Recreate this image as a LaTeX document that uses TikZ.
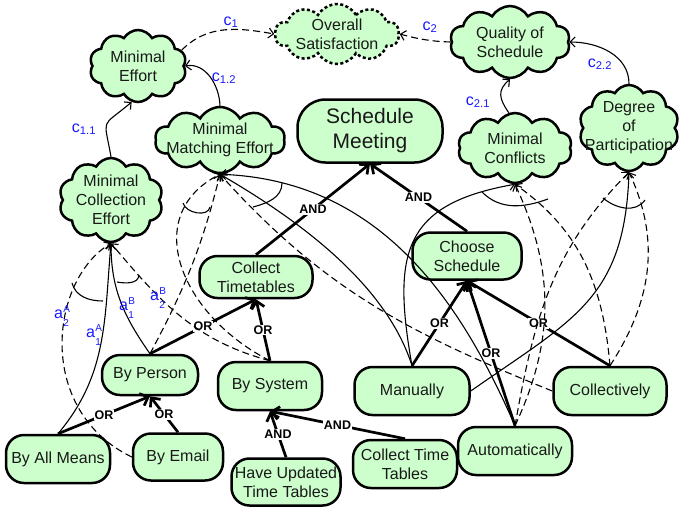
\documentclass[tikz,border=0pt]{standalone}
\usepackage{fontspec}
\setmainfont{Liberation Sans}
\usetikzlibrary{shapes.symbols,arrows.meta}
\definecolor{softgreen}{RGB}{204,255,204}
\definecolor{lblblue}{RGB}{25,25,255}
\definecolor{txtc}{RGB}{25,25,25}
\newcommand{\mylbl}[2]{a\kern0.3pt\raisebox{-8pt}{\fontsize{10}{13.5}\selectfont\begin{tabular}[b]{@{}l@{}}#1\\#2\end{tabular}}}
\tikzset{
  base/.style={draw=black, line width=2.5pt, fill=softgreen, text=txtc, align=center, font=\fontsize{16}{19}\selectfont, inner sep=0pt},
  cloudnode/.style={base, cloud, cloud puffs=10, cloud puff arc=120, cloud ignores aspect},
  dashcloud/.style={cloudnode, dash pattern=on 3pt off 2.5pt},
  ctext/.style={align=center, text=txtc, font=\fontsize{16}{19}\selectfont, inner sep=0pt},
  goalbox/.style={base, rectangle, rounded corners=18pt},
  declink/.style={line width=2.7pt, -{Straight Barb[length=7pt,width=13pt]}},
  contrib/.style={line width=1.1pt, -{Straight Barb[length=5pt,width=10pt]}},
  contribd/.style={contrib, dash pattern=on 7pt off 4pt},
  arcmark/.style={line width=1.1pt},
  oplbl/.style={fill=white, inner sep=1pt, text=black, font=\bfseries\fontsize{12.5}{14}\selectfont},
  clbl/.style={text=lblblue, font=\fontsize{16}{18}\selectfont, inner sep=0pt},
}
\begin{document}
\begin{tikzpicture}[x=1pt,y=1pt]
\useasboundingbox (0,0) rectangle (679,-507);
% softgoal clouds
\node[dashcloud, minimum width=124pt, minimum height=60pt] (os) at (337,-34) {};
\node[ctext] (ost) at (os.center) {Overall\\Satisfaction};
\node[cloudnode, minimum width=97pt, minimum height=72pt] (me) at (138,-66) {};
\node[ctext] (met) at (me.center) {Minimal\\Effort};
\node[cloudnode, minimum width=120pt, minimum height=72pt] (qos) at (510,-42) {};
\node[ctext] (qost) at (qos.center) {Quality of\\Schedule};
\node[cloudnode, minimum width=130pt, minimum height=66pt] (mme) at (220,-140) {};
\node[ctext] (mmet) at (mme.center) {Minimal\\Matching Effort};
\node[cloudnode, minimum width=104pt, minimum height=84pt] (mce) at (111,-200) {};
\node[ctext] (mcet) at (mce.center) {Minimal\\Collection\\Effort};
\node[cloudnode, minimum width=114pt, minimum height=70pt] (mc) at (515,-148) {};
\node[ctext] (mct) at (mc.center) {Minimal\\Conflicts};
\node[cloudnode, minimum width=100pt, minimum height=86pt] (dop) at (629,-128) {};
\node[ctext] (dopt) at (dop.center) {Degree\\of\\Participation};
% goals and tasks
\node[goalbox, rounded corners=28pt, minimum width=145pt, minimum height=63pt, font=\fontsize{21}{25}\selectfont] (sm) at (370,-131) {Schedule\\Meeting};
\node[goalbox, minimum width=113pt, minimum height=42pt] (ct) at (256,-277) {Collect\\Timetables};
\node[goalbox, minimum width=109pt, minimum height=47pt] (cs) at (467,-256) {Choose\\Schedule};
\node[goalbox, minimum width=96pt, minimum height=40pt] (bp) at (150,-375) {By Person};
\node[goalbox, minimum width=104pt, minimum height=48pt] (bs) at (270,-386) {By System};
\node[goalbox, minimum width=115pt, minimum height=48pt] (man) at (412,-391) {Manually};
\node[goalbox, minimum width=113pt, minimum height=48pt] (col) at (610,-391) {Collectively};
\node[goalbox, minimum width=114pt, minimum height=48pt] (auto) at (515,-451) {Automatically};
\node[goalbox, minimum width=104pt, minimum height=48pt] (bam) at (58,-459) {By All Means};
\node[goalbox, minimum width=90pt, minimum height=47pt] (be) at (178,-457) {By Email};
\node[goalbox, minimum width=109pt, minimum height=47pt] (hutt) at (286,-482) {Have Updated\\Time Tables};
\node[goalbox, minimum width=104pt, minimum height=48pt] (ctt) at (405,-464) {Collect Time\\Tables};
% decompositions
\draw[declink] (ct.north) -- node[oplbl]{AND} (sm.south);
\draw[declink] (cs.north) -- node[oplbl]{AND} (sm.south);
\draw[declink] (bp.north) -- node[oplbl]{OR} (ct.south);
\draw[declink] (bs.north) -- node[oplbl]{OR} (ct.south);
\draw[declink] (bam.north) -- node[oplbl]{OR} (bp.south);
\draw[declink] (be.north) -- node[oplbl]{OR} (bp.south);
\draw[declink] (hutt.north) -- node[oplbl]{AND} (bs.south);
\draw[declink] (ctt.north) -- node[oplbl]{AND} (bs.south);
\draw[declink] (man.north) -- node[oplbl]{OR} (cs.south);
\draw[declink] (auto.north) -- node[oplbl]{OR} (cs.south);
\draw[declink] (col.north) -- node[oplbl]{OR} (cs.south);
% softgoal contributions
\draw[contribd] (me.20) to[out=45,in=170] (os.west);
\draw[contribd] (qos.west) to[out=178,in=-15] (os.east);
\draw[contrib] (mce.north) to[out=100,in=-140,looseness=1.8] (me.-100);
\draw[contrib] (mme.north) to[out=92,in=10] (me.east);
\draw[contrib] (mc.100) to[out=125,in=-140,looseness=1.3] (qos.south);
\draw[contrib] (dop.north) to[out=90,in=0] (qos.east);
% to minimal collection effort
\draw[contrib] (bam.north) to[out=50,in=-95] (mce.south);
\draw[contrib] (bp.north) to[out=125,in=-90] (mce.south);
\draw[contribd] (be.west) .. controls (35,-410) and (50,-280) .. (mce.south);
\draw[contribd] (bs.north) to[out=165,in=-50] (mce.south);
% to minimal matching effort
\draw[contribd] (bp.north) to[out=62,in=-104] (mme.south);
\draw[contribd] (bs.north) .. controls (180,-315) and (140,-215) .. (mme.south);
\draw[contribd] (col.west) to[out=158,in=-48] (mme.south);
\draw[contrib] (man.north) .. controls (385,-280) and (290,-215) .. (mme.south);
\draw[contrib] (auto.north) .. controls (460,-300) and (380,-180) .. (mme.south);
% to minimal conflicts
\draw[contrib] (man.north) to[out=100,in=-170,looseness=1.4] (mc.south);
\draw[contribd] (auto.north) to[out=65,in=-65] (mc.south);
\draw[contribd] (col.north) to[out=95,in=-35] (mc.south);
% to degree of participation
\draw[contrib] (man.east) to[out=35,in=-92,looseness=1.2] (dop.south);
\draw[contribd] (auto.north) to[out=80,in=-135] (dop.south);
\draw[contribd] (col.north) to[out=57,in=-65] (dop.south);
% contribution arcs
\draw[arcmark] (72,-283) to[out=-75,in=180] (103,-301);
\draw[arcmark] (117,-282) to[out=-10,in=-95] (139,-275);
\draw[arcmark] (183,-203) to[out=-75,in=-100] (210,-207);
\draw[arcmark] (282,-183) to[out=-90,in=15] (253,-207);
\draw[arcmark] (482,-192) to[out=-45,in=-160] (548,-199);
\draw[arcmark] (603,-198) to[out=-40,in=-125] (645,-200);
% labels
\node[clbl] (lc1) at (231,-22) {c\textsubscript{1}};
\node[clbl] (lc12) at (224,-78) {c\textsubscript{1.2}};
\node[clbl] (lc11) at (84,-129) {c\textsubscript{1.1}};
\node[clbl] (lc2) at (430,-27) {c\textsubscript{2}};
\node[clbl] (lc21) at (478,-102) {c\textsubscript{2.1}};
\node[clbl] (lc22) at (600,-64) {c\textsubscript{2.2}};
\node[clbl] (la2A) at (62,-317) {\mylbl{A}{2}};
\node[clbl] (la1A) at (94,-336) {\mylbl{A}{1}};
\node[clbl] (la1B) at (127,-309) {\mylbl{B}{1}};
\node[clbl] (la2B) at (158,-299) {\mylbl{B}{2}};
\end{tikzpicture}
\end{document}
